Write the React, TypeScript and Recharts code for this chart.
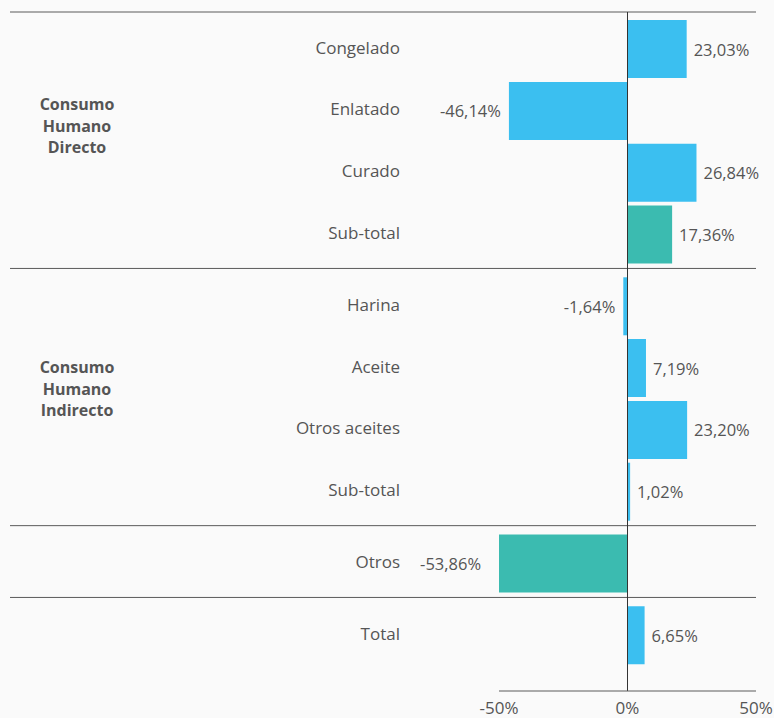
import React from 'react';
import {
  BarChart,
  Bar,
  XAxis,
  YAxis,
  Cell,
  LabelList,
  ReferenceLine,
} from 'recharts';

// rows, top to bottom
const categories = [
  'Congelado',
  'Enlatado',
  'Curado',
  'Sub-total',
  'Harina',
  'Aceite',
  'Otros aceites',
  'Sub-total',
  'Otros',
  'Total',
];
const values = [23.03, -46.14, 26.84, 17.36, -1.64, 7.19, 23.2, 1.02, -53.86, 6.65];
const groupOf = [0, 0, 0, 0, 1, 1, 1, 1, 2, 3];
const highlighted = [3, 8];
const groupTitles = [
  { lines: ['Consumo', 'Humano', 'Directo'], top: 94 },
  { lines: ['Consumo', 'Humano', 'Indirecto'], top: 357 },
];
const xTicks = [-50, 0, 50];

const W = 774;
const H = 718;
const ROW = 61.8; // px per row
const GAP = 10 / ROW; // extra space between groups, in rows
const TOP = 12;
const BOTTOM = 691;
const LEFT = 499;
const RIGHT = 756;
const PX_PER_PCT = (RIGHT - LEFT) / 100;

const BLUE = '#3bbff0';
const TEAL = '#3bbbb0';
const TEXT = '#555555';
const LINE = '#5a5a5a';
const FONT = '"Open Sans", sans-serif';

const positions = categories.map((_, i) => i + groupOf[i] * GAP);
const yLo = -(37 / ROW);
const yHi = yLo + (BOTTOM - TOP) / ROW;

const data = categories.map((name, i) => ({
  name,
  pos: positions[i],
  value: values[i],
}));

// separator lines between groups (plus one at the top)
const separators = [yLo];
for (let i = 1; i < positions.length; i++) {
  if (groupOf[i] !== groupOf[i - 1]) separators.push((positions[i - 1] + positions[i]) / 2 - 0.03);
}
const sepLeft = (10 - (LEFT + RIGHT) / 2) / PX_PER_PCT;

const fmt = (v: number) => v.toFixed(2).replace('.', ',') + '%';

const CategoryTick = (props: any) => {
  const { y, payload } = props;
  const idx = positions.indexOf(payload.value);
  return (
    <text
      x={400}
      y={y}
      dy={0}
      textAnchor="end"
      dominantBaseline="middle"
      fill={TEXT}
      fontSize={17}
      fontFamily={FONT}
    >
      {categories[idx]}
    </text>
  );
};

const ValueLabel = (props: any) => {
  const { x, y, width, height, value } = props;
  const left = Math.min(x, x + width);
  const right = Math.max(x, x + width);
  const neg = value < 0;
  return (
    <text
      x={neg ? left - 8 : right + 7}
      y={y + height / 2}
      dy={2}
      textAnchor={neg ? 'end' : 'start'}
      dominantBaseline="middle"
      fill={TEXT}
      fontSize={16.5}
      fontFamily={FONT}
    >
      {fmt(value)}
    </text>
  );
};

export default function App() {
  return (
    <div
      style={{
        position: 'absolute',
        left: 0,
        top: 0,
        width: W,
        height: H,
        background: '#fafafa',
        overflow: 'hidden',
      }}
    >
      <BarChart
        width={W}
        height={H}
        data={data}
        layout="vertical"
        margin={{ top: TOP, right: W - RIGHT, bottom: 0, left: 0 }}
      >
        <XAxis
          type="number"
          domain={[-50, 50]}
          ticks={xTicks}
          allowDataOverflow
          height={H - BOTTOM}
          axisLine={{ stroke: LINE }}
          tickLine={false}
          tickMargin={5}
          tick={{ fill: TEXT, fontSize: 17, fontFamily: FONT }}
          tickFormatter={(v: number) => `${v}%`}
        />
        <YAxis
          type="number"
          dataKey="pos"
          domain={[yLo, yHi]}
          ticks={positions}
          interval={0}
          allowDataOverflow
          width={LEFT}
          axisLine={false}
          tickLine={false}
          tick={<CategoryTick />}
        />
        {separators.map((s, i) => (
          <ReferenceLine
            key={i}
            segment={[
              { x: sepLeft, y: s },
              { x: 50, y: s },
            ]}
            stroke={LINE}
            strokeWidth={1}
            ifOverflow="visible"
          />
        ))}
        <Bar dataKey="value" barSize={58} isAnimationActive={false}>
          {data.map((_, i) => (
            <Cell key={i} fill={highlighted.includes(i) ? TEAL : BLUE} />
          ))}
          <LabelList dataKey="value" content={<ValueLabel />} />
        </Bar>
        <ReferenceLine x={0} stroke="#333" strokeWidth={1} ifOverflow="visible" />
      </BarChart>
      {groupTitles.map((g, i) => (
        <div
          key={i}
          style={{
            position: 'absolute',
            left: 17,
            width: 120,
            top: g.top,
            textAlign: 'center',
            fontFamily: FONT,
            fontWeight: 700,
            fontSize: 16,
            lineHeight: '21.5px',
            color: TEXT,
          }}
        >
          {g.lines.map((l) => (
            <div key={l}>{l}</div>
          ))}
        </div>
      ))}
    </div>
  );
}
